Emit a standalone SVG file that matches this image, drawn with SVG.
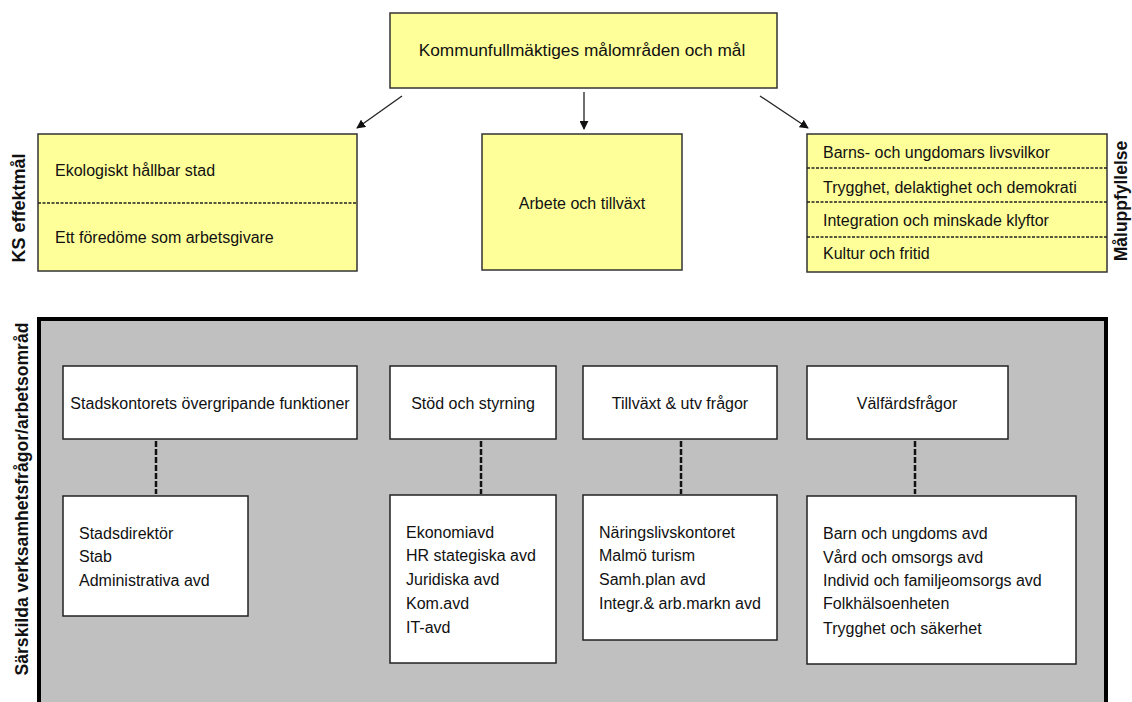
<svg xmlns="http://www.w3.org/2000/svg" width="1132" height="702" viewBox="0 0 1132 702">
<defs>
<style>
text{font-family:"Liberation Sans",Arial,sans-serif;font-size:16px;fill:#111}
.c{text-anchor:middle}
.lbl{font-weight:bold;font-size:18px}
.y{fill:#FFFF99;stroke:#333;stroke-width:1.5}
.w{fill:#fff;stroke:#222;stroke-width:1.5}
.dot{stroke:#222;stroke-width:1.5;stroke-dasharray:3 1.5;fill:none}
.dash{stroke:#111;stroke-width:2.5;stroke-dasharray:6 2;fill:none}
.arr{stroke:#222;stroke-width:1.3;fill:none;marker-end:url(#ah)}
</style>
<marker id="ah" viewBox="0 0 10 10" refX="9" refY="5" markerWidth="9" markerHeight="9" markerUnits="userSpaceOnUse" orient="auto">
<path d="M0,0 L10,5 L0,10 z" fill="#111"/>
</marker>
</defs>
<rect width="1132" height="702" fill="#fff"/>

<g id="label-ks"><text class="lbl" transform="translate(25,208) rotate(-90)" text-anchor="middle">KS effektmål</text></g>
<g id="label-mal"><text class="lbl" transform="translate(1127,201) rotate(-90)" text-anchor="middle" style="font-size:17.5px">Måluppfyllelse</text></g>
<g id="label-sar"><text class="lbl" transform="translate(28,499) rotate(-90)" text-anchor="middle" style="font-size:17.6px">Särskilda  verksamhetsfrågor/arbetsområd</text></g>

<g id="top"><rect class="y" x="390" y="13" width="387" height="75"/><text class="c" x="582" y="56" style="font-size:17.3px">Kommunfullmäktiges målområden och mål</text></g>

<g id="ks-goals"><rect class="y" x="38" y="134" width="319" height="137"/>
<line class="dot" x1="38" y1="203" x2="357" y2="203"/>
<text x="55" y="176">Ekologiskt hållbar stad</text>
<text x="55" y="243">Ett föredöme som arbetsgivare</text></g>

<g id="arbete"><rect class="y" x="482" y="134" width="200" height="136"/><text class="c" x="582" y="209">Arbete och tillväxt</text></g>

<g id="mal-goals"><rect class="y" x="807" y="134" width="300" height="138"/>
<line class="dot" x1="807" y1="168" x2="1107" y2="168"/>
<line class="dot" x1="807" y1="202" x2="1107" y2="202"/>
<line class="dot" x1="807" y1="237" x2="1107" y2="237"/>
<text x="823" y="158">Barns- och ungdomars livsvilkor</text>
<text x="823" y="193">Trygghet, delaktighet och demokrati</text>
<text x="823" y="226">Integration och minskade klyftor</text>
<text x="823" y="259">Kultur och fritid</text></g>

<g id="panel"><rect x="39" y="319" width="1067" height="400" fill="#C0C0C0" stroke="#000" stroke-width="4"/></g>

<g id="connectors">
<line class="arr" x1="402" y1="96" x2="357" y2="128"/>
<line class="arr" x1="584" y1="92" x2="584" y2="129"/>
<line class="arr" x1="760" y1="96" x2="808" y2="128"/>
<line class="dash" x1="156" y1="441" x2="156" y2="494"/>
<line class="dash" x1="481" y1="441" x2="481" y2="494"/>
<line class="dash" x1="681" y1="441" x2="681" y2="494"/>
<line class="dash" x1="915" y1="441" x2="915" y2="494"/>
</g>

<g id="stadskontoret"><rect class="w" x="63" y="366" width="294" height="73"/><text class="c" x="210" y="409">Stadskontorets övergripande funktioner</text></g>
<g id="stadskontoret-avd"><rect class="w" x="63" y="496" width="185" height="120"/>
<text x="79" y="539">Stadsdirektör</text><text x="79" y="562">Stab</text><text x="79" y="586">Administrativa avd</text></g>

<g id="stod"><rect class="w" x="390" y="366" width="166" height="73"/><text class="c" x="473" y="409">Stöd och styrning</text></g>
<g id="stod-avd"><rect class="w" x="390" y="495" width="166" height="168"/>
<text x="406" y="538">Ekonomiavd</text><text x="406" y="561">HR stategiska avd</text><text x="406" y="585">Juridiska avd</text><text x="406" y="609">Kom.avd</text><text x="406" y="633">IT-avd</text></g>

<g id="tillvaxt"><rect class="w" x="583" y="366" width="194" height="73"/><text class="c" x="680" y="409">Tillväxt &amp; utv frågor</text></g>
<g id="tillvaxt-avd"><rect class="w" x="583" y="495" width="194" height="145"/>
<text x="599" y="538">Näringslivskontoret</text><text x="599" y="561">Malmö turism</text><text x="599" y="585">Samh.plan avd</text><text x="599" y="609">Integr.&amp; arb.markn avd</text></g>

<g id="valfard"><rect class="w" x="807" y="366" width="201" height="73"/><text class="c" x="907" y="409">Välfärdsfrågor</text></g>
<g id="valfard-avd"><rect class="w" x="807" y="496" width="269" height="168"/>
<text x="823" y="539">Barn och ungdoms avd</text><text x="823" y="563">Vård och omsorgs avd</text><text x="823" y="586">Individ och familjeomsorgs avd</text><text x="823" y="609">Folkhälsoenheten</text><text x="823" y="634">Trygghet och säkerhet</text></g>
</svg>
